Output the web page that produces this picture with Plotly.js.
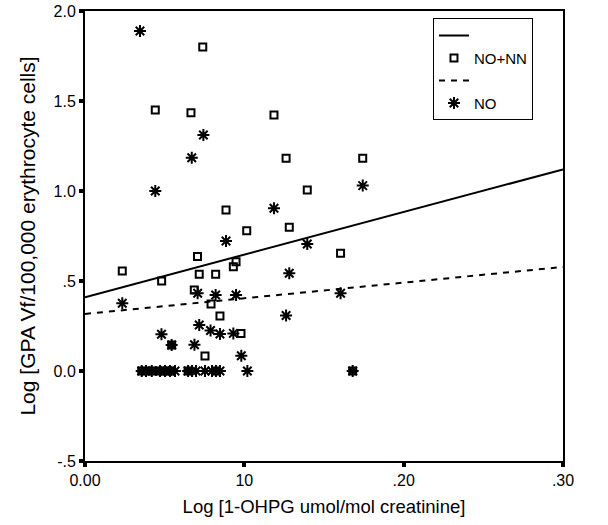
<!DOCTYPE html>
<html>
<head>
<meta charset="utf-8">
<script src="https://cdn.plot.ly/plotly-3.0.1.min.js"></script>
<style>html,body{margin:0;padding:0;background:#fff;}#chart{width:608px;height:525px;}</style>
</head>
<body>
<div id="chart"></div>
<script>
// NO+NN group (open squares)
const nonnX = [0.0739,0.0441,0.0665,0.1186,0.1262,0.1743,0.1395,0.0885,0.1015,0.1282,0.0706,0.0948,0.0931,0.1604,0.0717,0.0820,0.0686,0.0791,0.0847,0.0979,0.0753,0.0234,0.0481,
               0.0356,0.0419,0.0471,0.0534,0.0647,0.0822,0.0544,0.1680];
const nonnY = [1.80,1.45,1.435,1.422,1.182,1.182,1.006,0.894,0.779,0.798,0.636,0.607,0.579,0.654,0.537,0.537,0.45,0.372,0.306,0.209,0.083,0.556,0.50,
               0,0,0,0,0,0,0.144,0];
// NO group (asterisks)
const noX = [0.0345,0.0743,0.0670,0.0441,0.1743,0.1186,0.0885,0.1395,0.1282,0.0234,0.0707,0.0820,0.0948,0.1604,0.1262,0.0717,0.0788,0.0847,0.0931,0.0480,0.0544,0.0687,0.0981,
             0.0356,0.0383,0.0419,0.0471,0.0502,0.0534,0.0565,0.0647,0.0672,0.0697,0.0753,0.0797,0.0822,0.0847,0.1019,0.1680];
const noY = [1.889,1.311,1.185,1.00,1.03,0.904,0.722,0.706,0.543,0.376,0.432,0.422,0.422,0.432,0.308,0.256,0.225,0.206,0.209,0.204,0.144,0.146,0.085,
             0,0,0,0,0,0,0,0,0,0,0,0,0,0,0,0];
// Fit lines
const fitX = [0, 0.30];
const nonnFitY = [0.41, 1.12];
const noFitY = [0.317, 0.578];
// Tick labels
const xTickVals = [0, 0.10, 0.20, 0.30];
const xTickText = ["0.00", "10", ".20", ".30"];
const yTickVals = [-0.5, 0, 0.5, 1.0, 1.5, 2.0];
const yTickText = ["-.5", "0.0", ".5", "1.0", "1.5", "2.0"];

const traces = [
  {x: fitX, y: nonnFitY, mode: 'lines', name: ' ', line: {color: '#000', width: 2}, hoverinfo: 'skip'},
  {x: nonnX, y: nonnY, mode: 'markers', name: 'NO+NN',
   marker: {symbol: 'square-open', size: 7, color: '#000', line: {color: '#000', width: 2}}},
  {x: fitX, y: noFitY, mode: 'lines', name: ' ', line: {color: '#000', width: 2, dash: '6px,6px'}, hoverinfo: 'skip'},
  {x: noX, y: noY, mode: 'markers', name: 'NO',
   marker: {symbol: 'asterisk-open', size: 10, color: '#000', line: {color: '#000', width: 2}}}
];

const layout = {
  width: 608, height: 525,
  margin: {l: 85, r: 45, t: 11, b: 64},
  paper_bgcolor: '#fff', plot_bgcolor: '#fff',
  font: {family: 'Liberation Sans, Arial, sans-serif', color: '#000', size: 16},
  showlegend: true,
  legend: {
    x: 0.728, y: 0.984, xanchor: 'left', yanchor: 'top',
    bgcolor: '#fff', bordercolor: '#000', borderwidth: 1,
    font: {size: 15, color: '#000'}, traceorder: 'normal', tracegroupgap: 0
  },
  xaxis: {
    range: [0, 0.30], showgrid: false, zeroline: false,
    showline: true, linecolor: '#000', linewidth: 2, mirror: true,
    ticks: 'outside', ticklen: 4, tickwidth: 4, tickcolor: '#000',
    tickvals: xTickVals, ticktext: xTickText,
    tickfont: {size: 16},
    title: {text: 'Log [1-OHPG umol/mol creatinine]', font: {size: 18.5}, standoff: 12}
  },
  yaxis: {
    range: [-0.5, 2.0], showgrid: false, zeroline: false,
    showline: true, linecolor: '#000', linewidth: 2, mirror: true,
    ticks: 'outside', ticklen: 4, tickwidth: 4, tickcolor: '#000',
    tickvals: yTickVals, ticktext: yTickText,
    tickfont: {size: 16},
    title: {text: 'Log [GPA Vf/100,000 erythrocyte cells]', font: {size: 21}, standoff: 12}
  }
};

Plotly.newPlot('chart', traces, layout, {displayModeBar: false, staticPlot: true});
</script>
</body>
</html>
